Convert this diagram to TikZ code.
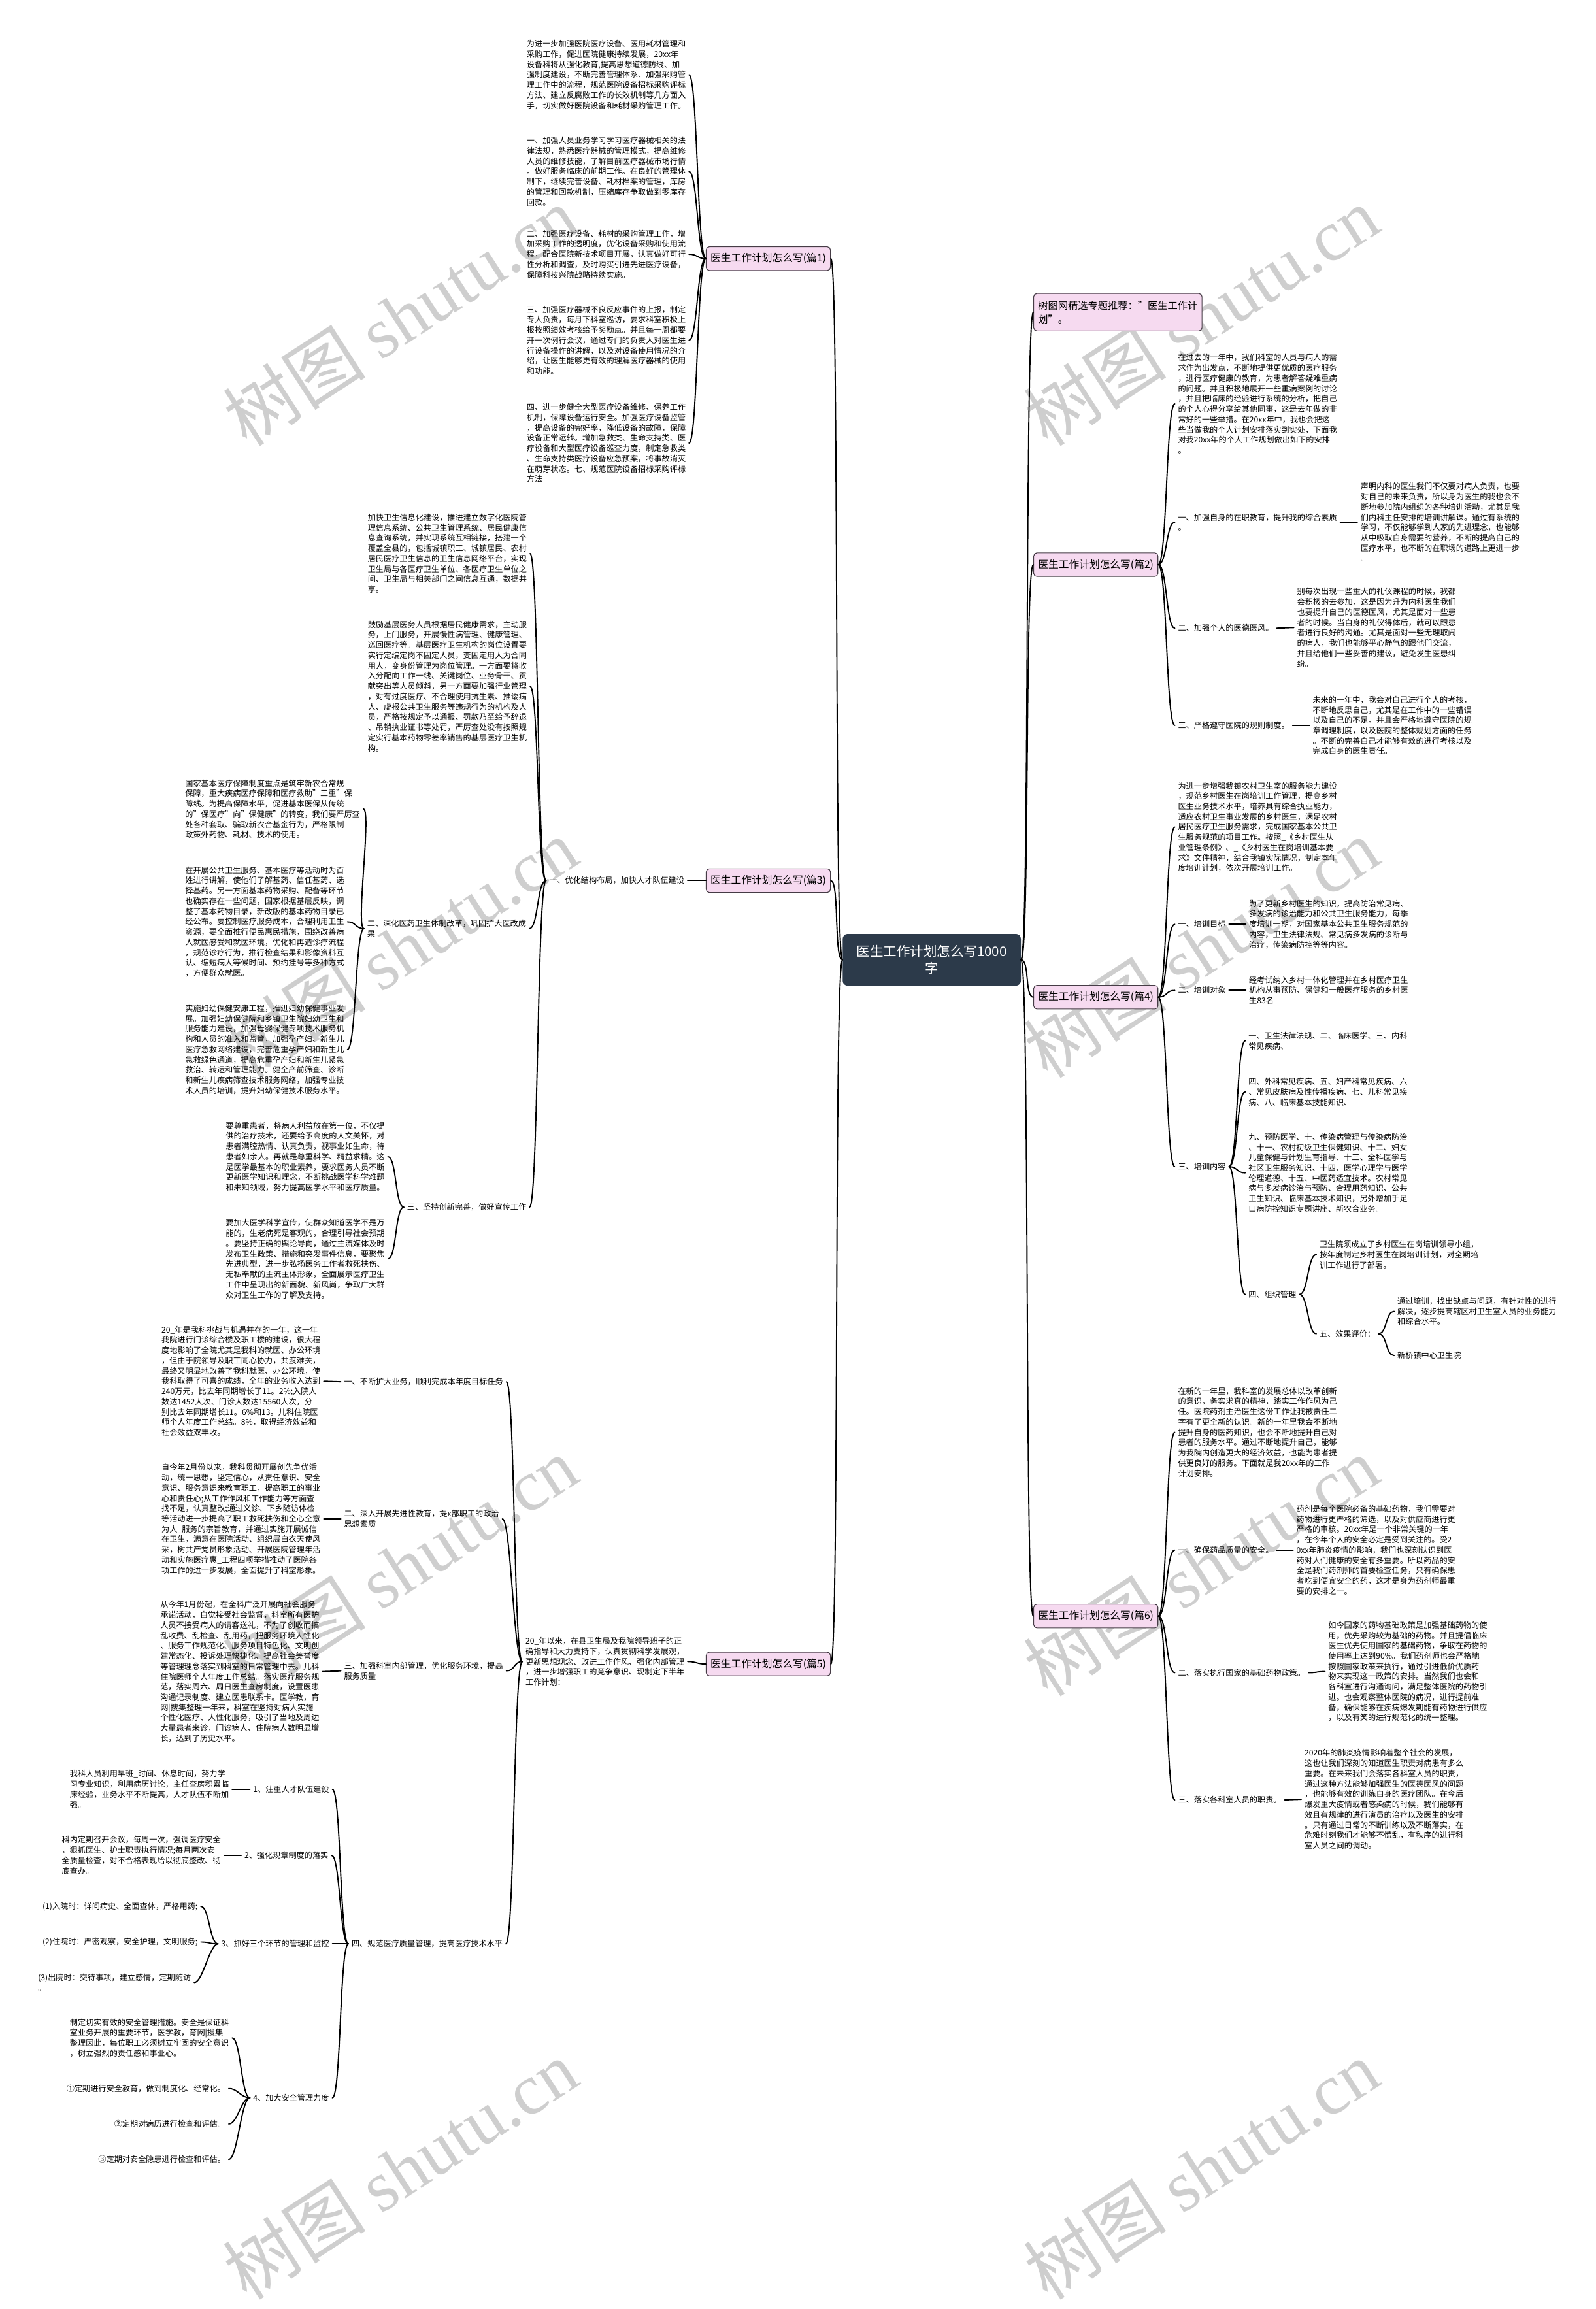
\documentclass[tikz,border=0pt]{standalone}
\usepackage{fontspec}
\setmainfont{Noto Sans CJK SC}
\newfontfamily\wmfont{Liberation Serif}
\usepackage{tikz}
\definecolor{boxpink}{RGB}{246,218,240}
\definecolor{boxline}{RGB}{70,60,70}
\definecolor{rootfill}{RGB}{44,58,74}
\definecolor{wmgray}{RGB}{206,206,206}
\newcommand{\linkR}[2]{\draw[link] (#1.east) .. controls +(14,0) and +(-14,0) .. (#2.west);}
\newcommand{\linkL}[2]{\draw[link] (#1.west) .. controls +(-14,0) and +(14,0) .. (#2.east);}

\begin{document}
\begin{tikzpicture}[x=1pt, y=-1pt,
    txt/.style={font=\fontsize{12.75}{16.5}\selectfont, align=left, inner sep=5pt, anchor=west},
    topic/.style={draw=boxline, fill=boxpink, line width=1.2pt, rounded corners=5pt,
        font=\fontsize{16.5}{21}\selectfont, inner xsep=7pt, inner ysep=0pt,
        minimum height=38pt, align=left},
    root/.style={fill=rootfill, text=white, rounded corners=8pt, align=center,
        font=\fontsize{21.5}{28}\selectfont, minimum width=286pt, minimum height=83pt},
    link/.style={line width=2pt, line cap=round},
    wm/.style={text=wmgray, rotate=33, font=\fontsize{115}{115}\selectfont},
]
\fill[white] (0,0) rectangle (2560,3533);
\foreach \wx/\wy in {642/507, 1927/507, 642/1521, 1927/1521, 642/2513, 1927/2513, 642/3481, 1927/3481}
    \node[wm] at (\wx,\wy) {树图 {\wmfont shutu.cn}};

\node[root] (root) at (1495,1540) {医生工作计划怎么写1000\\字};

\node[topic, anchor=west, minimum height=60pt, font=\fontsize{16}{22}\selectfont] (hot) at (1658,501) {树图网精选专题推荐："医生工作计\\划"。};
\node[topic, anchor=west] (P2) at (1658,906) {医生工作计划怎么写(篇2)};
\node[topic, anchor=west] (P4) at (1658,1600) {医生工作计划怎么写(篇4)};
\node[topic, anchor=west] (P6) at (1658,2593) {医生工作计划怎么写(篇6)};
\node[topic, anchor=east] (P1) at (1333,415) {医生工作计划怎么写(篇1)};
\node[topic, anchor=east] (P3) at (1333,1413) {医生工作计划怎么写(篇3)};
\node[topic, anchor=east] (P5) at (1333,2670) {医生工作计划怎么写(篇5)};

\linkR{root}{hot}
\linkR{root}{P2}
\linkR{root}{P4}
\linkR{root}{P6}
\linkL{root}{P1}
\linkL{root}{P3}
\linkL{root}{P5}

% 篇2
\node[txt] (P2i) at (1885,648) {在过去的一年中，我们科室的人员与病人的需\\
求作为出发点，不断地提供更优质的医疗服务\\
，进行医疗健康的教育，为患者解答疑难重病\\
的问题。并且积极地展开一些重病案例的讨论\\
，并且把临床的经验进行系统的分析，把自己\\
的个人心得分享给其他同事，这是去年做的非\\
常好的一些举措。在20xx年中，我也会把这\\
些当做我的个人计划安排落实到实处，下面我\\
对我20xx年的个人工作规划做出如下的安排\\
。};
\node[txt] (P2a) at (1885,838) {一、加强自身的在职教育，提升我的综合素质\\。};
\node[txt] (P2ap) at (2178,838) {声明内科的医生我们不仅要对病人负责，也要\\
对自己的未来负责，所以身为医生的我也会不\\
断地参加院内组织的各种培训活动，尤其是我\\
们内科主任安排的培训讲解课。通过有系统的\\
学习，不仅能够学到人家的先进理念，也能够\\
从中吸取自身需要的营养，不断的提高自己的\\
医疗水平，也不断的在职场的道路上更进一步\\
。};
\node[txt] (P2b) at (1885,1008) {二、加强个人的医德医风。};
\node[txt] (P2bp) at (2076,1007) {别每次出现一些重大的礼仪课程的时候，我都\\
会积极的去参加，这是因为升为内科医生我们\\
也要提升自己的医德医风，尤其是面对一些患\\
者的时候。当自身的礼仪得体后，就可以跟患\\
者进行良好的沟通。尤其是面对一些无理取闹\\
的病人，我们也能够平心静气的跟他们交流，\\
并且给他们一些妥善的建议，避免发生医患纠\\
纷。};
\node[txt] (P2c) at (1885,1164) {三、严格遵守医院的规则制度。};
\node[txt] (P2cp) at (2101,1164) {未来的一年中，我会对自己进行个人的考核，\\
不断地反思自己，尤其是在工作中的一些错误\\
以及自己的不足。并且会严格地遵守医院的规\\
章调理制度，以及医院的整体规划方面的任务\\
。不断的完善自己才能够有效的进行考核以及\\
完成自身的医生责任。};
\linkR{P2}{P2i}
\linkR{P2}{P2a}
\linkR{P2}{P2b}
\linkR{P2}{P2c}
\linkR{P2a}{P2ap}
\linkR{P2b}{P2bp}
\linkR{P2c}{P2cp}

% 篇4
\node[txt] (P4i) at (1885,1327) {为进一步增强我镇农村卫生室的服务能力建设\\
，规范乡村医生在岗培训工作管理，提高乡村\\
医生业务技术水平，培养具有综合执业能力，\\
适应农村卫生事业发展的乡村医生，满足农村\\
居民医疗卫生服务需求，完成国家基本公共卫\\
生服务规范的项目工作。按照\_《乡村医生从\\
业管理条例》、\_《乡村医生在岗培训基本要\\
求》文件精神，结合我镇实际情况，制定本年\\
度培训计划，依次开展培训工作。};
\node[txt] (P4a) at (1885,1483) {一、培训目标};
\node[txt] (P4ap) at (1999,1483) {为了更新乡村医生的知识，提高防治常见病、\\
多发病的诊治能力和公共卫生服务能力，每季\\
度培训一期，对国家基本公共卫生服务规范的\\
内容，卫生法律法规、常见病多发病的诊断与\\
治疗，传染病防控等等内容。};
\node[txt] (P4b) at (1885,1589) {二、培训对象};
\node[txt] (P4bp) at (1999,1589) {经考试纳入乡村一体化管理并在乡村医疗卫生\\
机构从事预防、保健和一般医疗服务的乡村医\\
生83名};
\node[txt] (P4c) at (1885,1872) {三、培训内容};
\node[txt] (P4c1) at (1998,1670) {一、卫生法律法规、二、临床医学、三、内科\\
常见疾病、};
\node[txt] (P4c2) at (1998,1752) {四、外科常见疾病、五、妇产科常见疾病、六\\
、常见皮肤病及性传播疾病、七、儿科常见疾\\
病、八、临床基本技能知识、};
\node[txt] (P4c3) at (1998,1882) {九、预防医学、十、传染病管理与传染病防治\\
、十一、农村初级卫生保健知识、十二、妇女\\
儿童保健与计划生育指导、十三、全科医学与\\
社区卫生服务知识、十四、医学心理学与医学\\
伦理道德、十五、中医药适宜技术。农村常见\\
病与多发病诊治与预防、合理用药知识、公共\\
卫生知识、临床基本技术知识，另外增加手足\\
口病防控知识专题讲座、新农合业务。};
\node[txt] (P4d) at (1998,2077) {四、组织管理};
\node[txt] (P4dp) at (2112,2013) {卫生院须成立了乡村医生在岗培训领导小组，\\
按年度制定乡村医生在岗培训计划，对全期培\\
训工作进行了部署。};
\node[txt] (P4e) at (2112,2140) {五、效果评价：};
\node[txt] (P4ep) at (2237,2104) {通过培训，找出缺点与问题，有针对性的进行\\
解决，逐步提高辖区村卫生室人员的业务能力\\
和综合水平。};
\node[txt] (P4ef) at (2237,2175) {新桥镇中心卫生院};
\linkR{P4}{P4i}
\linkR{P4}{P4a}
\linkR{P4}{P4b}
\linkR{P4}{P4c}
\linkR{P4a}{P4ap}
\linkR{P4b}{P4bp}
\linkR{P4c}{P4c1}
\linkR{P4c}{P4c2}
\linkR{P4c}{P4c3}
\linkR{P4c}{P4d}
\linkR{P4d}{P4dp}
\linkR{P4d}{P4e}
\linkR{P4e}{P4ep}
\linkR{P4e}{P4ef}

% 篇6
\node[txt] (P6i) at (1885,2298) {在新的一年里，我科室的发展总体以改革创新\\
的意识，务实求真的精神，踏实工作作风为己\\
任。医院药剂主治医生这份工作让我被责任二\\
字有了更全新的认识。新的一年里我会不断地\\
提升自身的医药知识，也会不断地提升自己对\\
患者的服务水平。通过不断地提升自己，能够\\
为我院内创造更大的经济效益，也能为患者提\\
供更良好的服务。下面就是我20xx年的工作\\
计划安排。};
\node[txt] (P6a) at (1885,2487) {一、确保药品质量的安全。};
\node[txt] (P6ap) at (2075,2487) {药剂是每个医院必备的基础药物，我们需要对\\
药物进行更严格的筛选，以及对供应商进行更\\
严格的审核。20xx年是一个非常关键的一年\\
，在今年个人的安全必定是受到关注的。受2\\
0xx年肺炎疫情的影响，我们也深刻认识到医\\
药对人们健康的安全有多重要。所以药品的安\\
全是我们药剂师的首要检查任务，只有确保患\\
者吃到便宜安全的药，这才是身为药剂师最重\\
要的安排之一。};
\node[txt] (P6b) at (1885,2684) {二、落实执行国家的基础药物政策。};
\node[txt] (P6bp) at (2126,2682) {如今国家的药物基础政策是加强基础药物的使\\
用，优先采购较为基础的药物。并且提倡临床\\
医生优先使用国家的基础药物，争取在药物的\\
使用率上达到90\%。我们药剂师也会严格地\\
按照国家政策来执行，通过引进低价优质药\\
物来实现这一政策的安排。当然我们也会和\\
各科室进行沟通询问，满足整体医院的药物引\\
进。也会观察整体医院的病况，进行提前准\\
备，确保能够在疾病爆发期能有药物进行供应\\
，以及有笑的进行规范化的统一整理。};
\node[txt] (P6c) at (1885,2888) {三、落实各科室人员的职责。};
\node[txt] (P6cp) at (2088,2887) {2020年的肺炎疫情影响着整个社会的发展，\\
这也让我们深刻的知道医生职责对病患有多么\\
重要。在未来我们会落实各科室人员的职责，\\
通过这种方法能够加强医生的医德医风的问题\\
，也能够有效的训练自身的医疗团队。在今后\\
爆发重大疫情或者感染病的时候，我们能够有\\
效且有规律的进行演员的治疗以及医生的安排\\
。只有通过日常的不断训练以及不断落实，在\\
危难时刻我们才能够不慌乱，有秩序的进行科\\
室人员之间的调动。};
\linkR{P6}{P6i}
\linkR{P6}{P6a}
\linkR{P6}{P6b}
\linkR{P6}{P6c}
\linkR{P6a}{P6ap}
\linkR{P6b}{P6bp}
\linkR{P6c}{P6cp}

% 篇1
\node[txt] (P1a) at (840,120) {为进一步加强医院医疗设备、医用耗材管理和\\
采购工作，促进医院健康持续发展，20xx年\\
设备科将从强化教育,提高思想道德防线、加\\
强制度建设，不断完善管理体系、加强采购管\\
理工作中的流程，规范医院设备招标采购评标\\
方法、建立反腐败工作的长效机制等几方面入\\
手，切实做好医院设备和耗材采购管理工作。};
\node[txt] (P1b) at (840,275) {一、加强人员业务学习学习医疗器械相关的法\\
律法规，熟悉医疗器械的管理模式，提高维修\\
人员的维修技能，了解目前医疗器械市场行情\\
。做好服务临床的前期工作。在良好的管理体\\
制下，继续完善设备、耗材档案的管理，库房\\
的管理和回款机制，压缩库存争取做到零库存\\
回款。};
\node[txt] (P1c) at (840,408) {二、加强医疗设备、耗材的采购管理工作，增\\
加采购工作的透明度，优化设备采购和使用流\\
程，配合医院新技术项目开展，认真做好可行\\
性分析和调查，及时购买引进先进医疗设备，\\
保障科技兴院战略持续实施。};
\node[txt] (P1d) at (840,546) {三、加强医疗器械不良反应事件的上报，制定\\
专人负责，每月下科室巡访，要求科室积极上\\
报按照绩效考核给予奖励点。并且每一周都要\\
开一次例行会议，通过专门的负责人对医生进\\
行设备操作的讲解，以及对设备使用情况的介\\
绍，让医生能够更有效的理解医疗器械的使用\\
和功能。};
\node[txt] (P1e) at (840,711) {四、进一步健全大型医疗设备维修、保养工作\\
机制，保障设备运行安全。加强医疗设备监管\\
，提高设备的完好率，降低设备的故障，保障\\
设备正常运转。增加急救类、生命支持类、医\\
疗设备和大型医疗设备巡查力度，制定急救类\\
、生命支持类医疗设备应急预案，将事故消灭\\
在萌芽状态。七、规范医院设备招标采购评标\\
方法};
\linkL{P1}{P1a}
\linkL{P1}{P1b}
\linkL{P1}{P1c}
\linkL{P1}{P1d}
\linkL{P1}{P1e}

% 篇3
\node[txt] (P3a) at (876,1413) {一、优化结构布局，加快人才队伍建设};
\node[txt] (P3a1) at (585,888) {加快卫生信息化建设，推进建立数字化医院管\\
理信息系统、公共卫生管理系统、居民健康信\\
息查询系统，并实现系统互相链接，搭建一个\\
覆盖全县的，包括城镇职工、城镇居民、农村\\
居民医疗卫生信息的卫生信息网络平台，实现\\
卫生局与各医疗卫生单位、各医疗卫生单位之\\
间、卫生局与相关部门之间信息互通，数据共\\
享。};
\node[txt] (P3a2) at (585,1101) {鼓励基层医务人员根据居民健康需求，主动服\\
务，上门服务，开展慢性病管理、健康管理、\\
巡回医疗等。基层医疗卫生机构的岗位设置要\\
实行定编定岗不固定人员，变固定用人为合同\\
用人，变身份管理为岗位管理。一方面要将收\\
入分配向工作一线、关键岗位、业务骨干、贡\\
献突出等人员倾斜，另一方面要加强行业管理\\
，对有过度医疗、不合理使用抗生素、推诿病\\
人、虚报公共卫生服务等违规行为的机构及人\\
员，严格按规定予以通报、罚款乃至给予辞退\\
、吊销执业证书等处罚，严厉查处没有按照规\\
定实行基本药物零差率销售的基层医疗卫生机\\
构。};
\node[txt] (P3b) at (584,1490) {二、深化医药卫生体制改革，巩固扩大医改成\\果};
\node[txt] (P3b1) at (292,1298) {国家基本医疗保障制度重点是筑牢新农合常规\\
保障，重大疾病医疗保障和医疗救助"三重"保\\
障线。为提高保障水平，促进基本医保从传统\\
的"保医疗"向"保健康"的转变，我们要严厉查\\
处各种套取、骗取新农合基金行为，严格限制\\
政策外药物、耗材、技术的使用。};
\node[txt] (P3b2) at (292,1479) {在开展公共卫生服务、基本医疗等活动时为百\\
姓进行讲解，使他们了解基药、信任基药、选\\
择基药。另一方面基本药物采购、配备等环节\\
也确实存在一些问题，国家根据基层反映，调\\
整了基本药物目录，新改版的基本药物目录已\\
经公布。要控制医疗服务成本，合理利用卫生\\
资源，要全面推行便民惠民措施，围绕改善病\\
人就医感受和就医环境，优化和再造诊疗流程\\
，规范诊疗行为，推行检查结果和影像资料互\\
认、缩短病人等候时间、预约挂号等多种方式\\
，方便群众就医。};
\node[txt] (P3b3) at (292,1684) {实施妇幼保健安康工程，推进妇幼保健事业发\\
展。加强妇幼保健院和乡镇卫生院妇幼卫生和\\
服务能力建设，加强母婴保健专项技术服务机\\
构和人员的准入和监管，加强孕产妇、新生儿\\
医疗急救网络建设，完善危重孕产妇和新生儿\\
急救绿色通道，提高危重孕产妇和新生儿紧急\\
救治、转运和管理能力。健全产前筛查、诊断\\
和新生儿疾病筛查技术服务网络，加强专业技\\
术人员的培训，提升妇幼保健技术服务水平。};
\node[txt] (P3c) at (648,1937) {三、坚持创新完善，做好宣传工作};
\node[txt] (P3c1) at (357,1856) {要尊重患者，将病人利益放在第一位，不仅提\\
供的治疗技术，还要给予高度的人文关怀，对\\
患者满腔热情、认真负责，视事业如生命，待\\
患者如亲人。再就是尊重科学、精益求精。这\\
是医学最基本的职业素养，要求医务人员不断\\
更新医学知识和理念，不断挑战医学科学难题\\
和未知领域，努力提高医学水平和医疗质量。};
\node[txt] (P3c2) at (357,2020) {要加大医学科学宣传，使群众知道医学不是万\\
能的，生老病死是客观的，合理引导社会预期\\
。要坚持正确的舆论导向，通过主流媒体及时\\
发布卫生政策、措施和突发事件信息，要聚焦\\
先进典型，进一步弘扬医务工作者救死扶伤、\\
无私奉献的主流主体形象，全面展示医疗卫生\\
工作中呈现出的新面貌、新风尚，争取广大群\\
众对卫生工作的了解及支持。};
\linkL{P3}{P3a}
\linkL{P3a}{P3a1}
\linkL{P3a}{P3a2}
\linkL{P3a}{P3b}
\linkL{P3a}{P3c}
\linkL{P3b}{P3b1}
\linkL{P3b}{P3b2}
\linkL{P3b}{P3b3}
\linkL{P3c}{P3c1}
\linkL{P3c}{P3c2}

% 篇5
\node[txt] (P5i) at (838,2666) {20\_年以来，在县卫生局及我院领导班子的正\\
确指导和大力支持下，认真贯彻科学发展观，\\
更新思想观念、改进工作作风、强化内部管理\\
，进一步增强职工的竞争意识、现制定下半年\\
工作计划：};
\node[txt] (P5a) at (547,2217) {一、不断扩大业务，顺利完成本年度目标任务};
\node[txt] (P5a1) at (254,2216) {20\_年是我科挑战与机遇并存的一年，这一年\\
我院进行门诊综合楼及职工楼的建设，很大程\\
度地影响了全院尤其是我科的就医、办公环境\\
，但由于院领导及职工同心协力，共渡难关，\\
最终又明显地改善了我科就医、办公环境，使\\
我科取得了可喜的成绩，全年的业务收入达到\\
240万元，比去年同期增长了11。2\%;入院人\\
数达1452人次、门诊人数达15560人次，分\\
别比去年同期增长11。6\%和13。儿科住院医\\
师个人年度工作总结。8\%，取得经济效益和\\
社会效益双丰收。};
\node[txt] (P5b) at (547,2437) {二、深入开展先进性教育，提x部职工的政治\\思想素质};
\node[txt] (P5b1) at (254,2437) {自今年2月份以来，我科贯彻开展创先争优活\\
动，统一思想，坚定信心，从责任意识、安全\\
意识、服务意识来教育职工，提高职工的事业\\
心和责任心;从工作作风和工作能力等方面查\\
找不足，认真整改;通过义诊、下乡随访体检\\
等活动进一步提高了职工救死扶伤和全心全意\\
为人\_服务的宗旨教育，并通过实施开展诚信\\
在卫生，满意在医院活动、组织展白衣天使风\\
采，树共产党员形象活动、开展医院管理年活\\
动和实施医疗惠\_工程四项举措推动了医院各\\
项工作的进一步发展，全面提升了科室形象。};
\node[txt] (P5c) at (547,2681) {三、加强科室内部管理，优化服务环境，提高\\服务质量};
\node[txt] (P5c1) at (252,2682) {从今年1月份起，在全科广泛开展向社会服务\\
承诺活动，自觉接受社会监督，科室所有医护\\
人员不接受病人的请客送礼，不为了创收而搞\\
乱收费、乱检查、乱用药，把服务环境人性化\\
、服务工作规范化、服务项目特色化、文明创\\
建常态化、投诉处理快捷化、提高社会美誉度\\
等管理理念落实到科室的日常管理中去。儿科\\
住院医师个人年度工作总结。落实医疗服务规\\
范，落实周六、周日医生查房制度，设置医患\\
沟通记录制度、建立医患联系卡。医学教，育\\
网|搜集整理一年来，科室在坚持对病人实施\\
个性化医疗、人性化服务，吸引了当地及周边\\
大量患者来诊，门诊病人、住院病人数明显增\\
长，达到了历史水平。};
\node[txt] (P5d) at (559,3119) {四、规范医疗质量管理，提高医疗技术水平};
\node[txt] (P5d1) at (401,2871) {1、注重人才队伍建设};
\node[txt] (P5d1a) at (107,2871) {我科人员利用早班\_时间、休息时间，努力学\\
习专业知识，利用病历讨论，主任查房积累临\\
床经验，业务水平不断提高，人才队伍不断加\\
强。};
\node[txt] (P5d2) at (387,2977) {2、强化规章制度的落实};
\node[txt] (P5d2a) at (94,2977) {科内定期召开会议，每周一次，强调医疗安全\\
，狠抓医生、护士职责执行情况;每月两次安\\
全质量检查，对不合格表现给以彻底整改、彻\\
底查办。};
\node[txt] (P5d3) at (350,3119) {3、抓好三个环节的管理和监控};
\node[txt] (P5d3a) at (63,3059) {(1)入院时：详问病史、全面查体，严格用药;};
\node[txt] (P5d3b) at (63,3116) {(2)住院时：严密观察，安全护理，文明服务;};
\node[txt] (P5d3c) at (56,3181) {(3)出院时：交待事项，建立感情，定期随访\\。};
\node[txt] (P5d4) at (401,3366) {4、加大安全管理力度};
\node[txt] (P5d4a) at (107,3270) {制定切实有效的安全管理措施。安全是保证科\\
室业务开展的重要环节，医学教，育网|搜集\\
整理因此，每位职工必须树立牢固的安全意识\\
，树立强烈的责任感和事业心。};
\node[txt, anchor=east] (P5d4b) at (367,3351) {①定期进行安全教育，做到制度化、经常化。};
\node[txt, anchor=east] (P5d4c) at (367,3408) {②定期对病历进行检查和评估。};
\node[txt, anchor=east] (P5d4d) at (367,3465) {③定期对安全隐患进行检查和评估。};
\linkL{P5}{P5i}
\linkL{P5i}{P5a}
\linkL{P5i}{P5b}
\linkL{P5i}{P5c}
\linkL{P5i}{P5d}
\linkL{P5a}{P5a1}
\linkL{P5b}{P5b1}
\linkL{P5c}{P5c1}
\linkL{P5d}{P5d1}
\linkL{P5d}{P5d2}
\linkL{P5d}{P5d3}
\linkL{P5d}{P5d4}
\linkL{P5d1}{P5d1a}
\linkL{P5d2}{P5d2a}
\linkL{P5d3}{P5d3a}
\linkL{P5d3}{P5d3b}
\linkL{P5d3}{P5d3c}
\linkL{P5d4}{P5d4a}
\linkL{P5d4}{P5d4b}
\linkL{P5d4}{P5d4c}
\linkL{P5d4}{P5d4d}
\end{tikzpicture}
\end{document}
